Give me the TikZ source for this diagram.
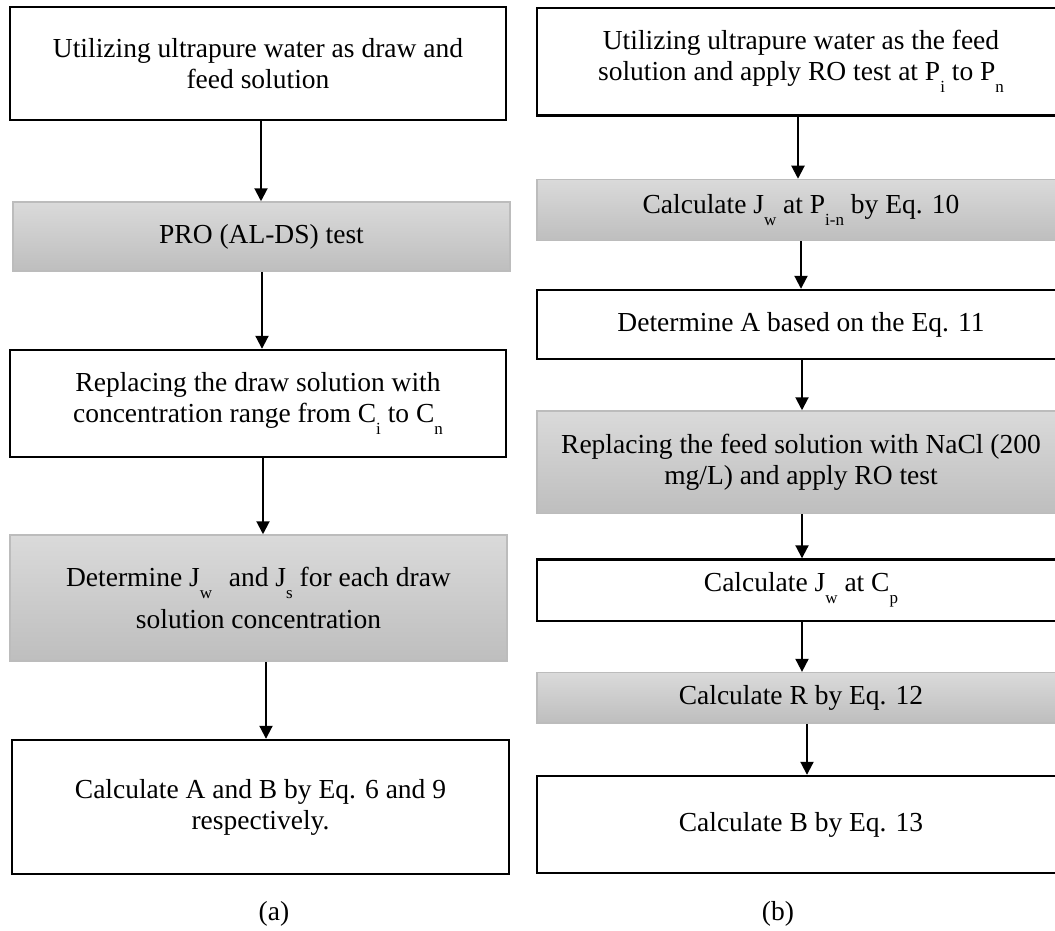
\documentclass[tikz,border=0pt]{standalone}
\usepackage{fontspec}
\setmainfont{Liberation Serif}
\usetikzlibrary{arrows.meta}
\definecolor{gtop}{RGB}{218,218,218}
\definecolor{gbot}{RGB}{190,190,190}
\definecolor{gedge}{RGB}{188,188,188}
\newcommand{\sbs}[1]{\raisebox{-12pt}[0pt]{\fontsize{17}{17}\selectfont #1}}
\begin{document}
\begin{tikzpicture}[x=1pt,y=-1pt,
  txt/.style={align=center, inner sep=0pt, font=\fontsize{27.5}{31}\selectfont},
  whitebox/.style={txt, draw=black, line width=2.4pt, fill=white},
  graybox/.style={txt, draw=gedge, line width=1.5pt, top color=gtop, bottom color=gbot},
  arr/.style={line width=2pt, -{Triangle[width=13pt,length=13pt]}},
  lbl/.style={txt}]
\useasboundingbox (0,0) rectangle (1055,931);

% left column
\node[whitebox, minimum width=496pt, minimum height=113pt] (L1) at (258,63.5)
  {Utilizing ultrapure water as draw and\\feed solution};
\node[graybox, minimum width=497pt, minimum height=69pt] (L2) at (261.5,236.5)
  {PRO (AL-DS) test};
\node[whitebox, minimum width=496pt, minimum height=107pt] (L3) at (258,403.5)
  {Replacing the draw solution with\\concentration range from C\sbs{i} to C\sbs{n}};
\node[graybox, minimum width=497pt, minimum height=126pt] (L4) at (258.5,598)
  {Determine J\sbs{w}\hspace{10pt} and J\sbs{s} for each draw\\[9pt]solution concentration};
\node[whitebox, minimum width=497pt, minimum height=134pt] (L5) at (260.5,807)
  {Calculate A and B by Eq. 6 and 9\\respectively.};

\draw[arr] ([xshift=3pt]L1.south) -- ([xshift=3pt]L1.south |- L2.north);
\draw[arr] ([xshift=0.5pt]L2.south) -- ([xshift=0.5pt]L2.south |- L3.north);
\draw[arr] ([xshift=5pt]L3.south) -- ([xshift=5pt]L3.south |- L4.north);
\draw[arr] ([xshift=7.5pt]L4.south) -- ([xshift=7.5pt]L4.south |- L5.north);

% right column
\node[whitebox, minimum width=528pt, minimum height=107.5pt] (R1) at (801,61.75)
  {Utilizing ultrapure water as the feed\\solution and apply RO test at P\sbs{i} to P\sbs{n}};
\node[graybox, minimum width=528pt, minimum height=61pt] (R2) at (801,210)
  {Calculate J\sbs{w} at P\sbs{i-n} by Eq. 10};
\node[whitebox, minimum width=528pt, minimum height=69pt] (R3) at (801,324.5)
  {Determine A based on the Eq. 11};
\node[graybox, minimum width=528pt, minimum height=102.6pt] (R4) at (801,462.3)
  {Replacing the feed solution with NaCl (200\\mg/L) and apply RO test};
\node[whitebox, minimum width=528pt, minimum height=61.5pt] (R5) at (801,590.25)
  {Calculate J\sbs{w} at C\sbs{p}};
\node[graybox, minimum width=528pt, minimum height=50.5pt] (R6) at (801,697.85)
  {Calculate R by Eq. 12};
\node[whitebox, minimum width=528pt, minimum height=97pt] (R7) at (801,824.5)
  {Calculate B by Eq. 13};

\draw[arr] ([xshift=-3pt]R1.south) -- ([xshift=-3pt]R1.south |- R2.north);
\draw[arr] ([xshift=0pt]R2.south) -- ([xshift=0pt]R2.south |- R3.north);
\draw[arr] ([xshift=1pt]R3.south) -- ([xshift=1pt]R3.south |- R4.north);
\draw[arr] ([xshift=1pt]R4.south) -- ([xshift=1pt]R4.south |- R5.north);
\draw[arr] ([xshift=1pt]R5.south) -- ([xshift=1pt]R5.south |- R6.north);
\draw[arr] ([xshift=6pt]R6.south) -- ([xshift=6pt]R6.south |- R7.north);

\node[lbl] (la) at (274,914) {(a)};
\node[lbl] (lb) at (778,914) {(b)};
\end{tikzpicture}
\end{document}
